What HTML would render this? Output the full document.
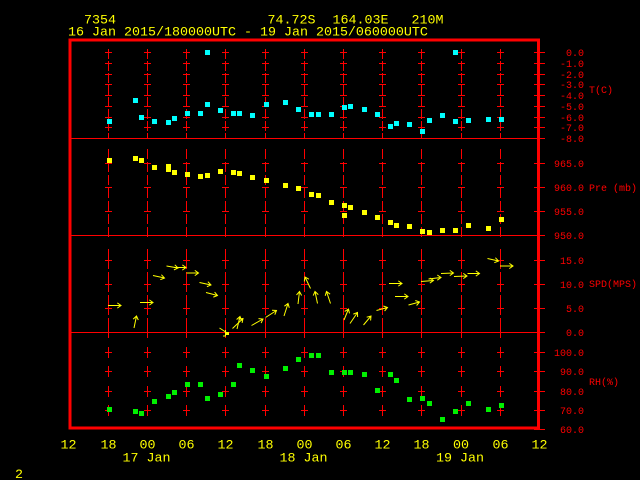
<!DOCTYPE html>
<html>
<head>
<meta charset="utf-8">
<style>
html,body{margin:0;padding:0;background:#000;}
svg{display:block;}
.y{fill:#ffff00;font-family:"Liberation Mono",monospace;font-size:13.33px;}
.r{fill:#ff0000;font-family:"Liberation Mono",monospace;font-size:10px;}
</style>
</head>
<body>
<svg width="640" height="480" viewBox="0 0 640 480" xmlns="http://www.w3.org/2000/svg" xmlns:xlink="http://www.w3.org/1999/xlink">
<rect x="0" y="0" width="640" height="480" fill="#000"/>
<defs>
<g id="c" stroke="#ff0000" stroke-width="1" fill="none">
  <line x1="0.5" y1="49" x2="0.5" y2="138" stroke-dasharray="10 2"/>
  <path d="M-3 52.5h7M-3 63.5h7M-3 74.5h7M-3 84.5h7M-3 95.5h7M-3 106.5h7M-3 117.5h7M-3 127.5h7"/>
  <line x1="0.5" y1="149" x2="0.5" y2="240" stroke-dasharray="10 3"/>
  <path d="M-3 163.5h7M-3 187.5h7M-3 211.5h7"/>
  <line x1="0.5" y1="249" x2="0.5" y2="340" stroke-dasharray="20 3"/>
  <path d="M-3 260.5h7M-3 284.5h7M-3 308.5h7"/>
  <path d="M0.5 347v11M0.5 366v11M0.5 386v11M0.5 405v11"/>
  <path d="M-3 352.5h7M-3 371.5h7M-3 391.5h7M-3 410.5h7"/>
</g>
</defs>

<!-- header -->
<text class="y" x="84" y="23.5">7354</text>
<text class="y" x="267.5" y="23.5">74.72S</text>
<text class="y" x="332.5" y="23.5">164.03E</text>
<text class="y" x="411.5" y="23.5">210M</text>
<text class="y" x="68" y="35.5">16 Jan 2015/180000UTC - 19 Jan 2015/060000UTC</text>

<!-- grid columns -->
<use xlink:href="#c" href="#c" x="108"/>
<use xlink:href="#c" href="#c" x="147"/>
<use xlink:href="#c" href="#c" x="186"/>
<use xlink:href="#c" href="#c" x="225"/>
<use xlink:href="#c" href="#c" x="265"/>
<use xlink:href="#c" href="#c" x="304"/>
<use xlink:href="#c" href="#c" x="343"/>
<use xlink:href="#c" href="#c" x="382"/>
<use xlink:href="#c" href="#c" x="421"/>
<use xlink:href="#c" href="#c" x="461"/>
<use xlink:href="#c" href="#c" x="500"/>

<!-- separators and right ticks -->
<path stroke="#ff0000" stroke-width="1" fill="none" d="M70 138.5H540M70 235.5H540M70 332.5H540
M534 52.5H545M534 63.5H545M534 74.5H545M534 84.5H545M534 95.5H545M534 106.5H545M534 117.5H545M534 127.5H545M534 138.5H545
M534 163.5H545M534 187.5H545M534 211.5H545M534 235.5H545
M534 260.5H545M534 284.5H545M534 308.5H545M534 332.5H545
M534 352.5H545M534 371.5H545M534 391.5H545M534 410.5H545M534 429.5H545"/>

<!-- frame -->
<rect x="70" y="40" width="468.5" height="388" fill="none" stroke="#ff0000" stroke-width="3"/>

<!-- right labels -->
<g class="r" text-anchor="end">
<text x="584" y="56">0.0</text>
<text x="584" y="67">-1.0</text>
<text x="584" y="78">-2.0</text>
<text x="584" y="88">-3.0</text>
<text x="584" y="99">-4.0</text>
<text x="584" y="110">-5.0</text>
<text x="584" y="121">-6.0</text>
<text x="584" y="131">-7.0</text>
<text x="584" y="142">-8.0</text>
<text x="584" y="167">965.0</text>
<text x="584" y="191">960.0</text>
<text x="584" y="215">955.0</text>
<text x="584" y="239">950.0</text>
<text x="584" y="264">15.0</text>
<text x="584" y="288">10.0</text>
<text x="584" y="312">5.0</text>
<text x="584" y="336">0.0</text>
<text x="584" y="356">100.0</text>
<text x="584" y="375">90.0</text>
<text x="584" y="395">80.0</text>
<text x="584" y="414">70.0</text>
<text x="584" y="433">60.0</text>
</g>
<g class="r">
<text x="589" y="93">T(C)</text>
<text x="589" y="191">Pre (mb)</text>
<text x="589" y="287">SPD(MPS)</text>
<text x="589" y="385">RH(%)</text>
</g>

<!-- temperature -->
<g fill="#00ffff" shape-rendering="crispEdges">
<rect x="107" y="119" width="5" height="5"/><rect x="133" y="98" width="5" height="5"/><rect x="139" y="115" width="5" height="5"/><rect x="152" y="119" width="5" height="5"/><rect x="166" y="120" width="5" height="5"/><rect x="172" y="116" width="5" height="5"/><rect x="185" y="111" width="5" height="5"/><rect x="198" y="111" width="5" height="5"/><rect x="205" y="50" width="5" height="5"/><rect x="205" y="102" width="5" height="5"/><rect x="218" y="108" width="5" height="5"/><rect x="231" y="111" width="5" height="5"/><rect x="237" y="111" width="5" height="5"/><rect x="250" y="113" width="5" height="5"/><rect x="264" y="102" width="5" height="5"/><rect x="283" y="100" width="5" height="5"/><rect x="296" y="107" width="5" height="5"/><rect x="309" y="112" width="5" height="5"/><rect x="316" y="112" width="5" height="5"/><rect x="329" y="112" width="5" height="5"/><rect x="342" y="105" width="5" height="5"/><rect x="348" y="104" width="5" height="5"/><rect x="362" y="107" width="5" height="5"/><rect x="375" y="112" width="5" height="5"/><rect x="388" y="124" width="5" height="5"/><rect x="394" y="121" width="5" height="5"/><rect x="407" y="122" width="5" height="5"/><rect x="420" y="129" width="5" height="5"/><rect x="427" y="118" width="5" height="5"/><rect x="440" y="113" width="5" height="5"/><rect x="453" y="50" width="5" height="5"/><rect x="453" y="119" width="5" height="5"/><rect x="466" y="118" width="5" height="5"/><rect x="486" y="117" width="5" height="5"/><rect x="499" y="117" width="5" height="5"/>
</g>

<!-- pressure -->
<g fill="#ffff00" shape-rendering="crispEdges">
<rect x="107" y="158" width="5" height="5"/><rect x="133" y="156" width="5" height="5"/><rect x="139" y="158" width="5" height="5"/><rect x="152" y="165" width="5" height="5"/><rect x="166" y="164" width="5" height="5"/><rect x="166" y="167" width="5" height="5"/><rect x="172" y="170" width="5" height="5"/><rect x="185" y="172" width="5" height="5"/><rect x="198" y="174" width="5" height="5"/><rect x="205" y="173" width="5" height="5"/><rect x="218" y="169" width="5" height="5"/><rect x="231" y="170" width="5" height="5"/><rect x="237" y="171" width="5" height="5"/><rect x="250" y="175" width="5" height="5"/><rect x="264" y="178" width="5" height="5"/><rect x="283" y="183" width="5" height="5"/><rect x="296" y="186" width="5" height="5"/><rect x="309" y="192" width="5" height="5"/><rect x="316" y="193" width="5" height="5"/><rect x="329" y="200" width="5" height="5"/><rect x="342" y="203" width="5" height="5"/><rect x="342" y="213" width="5" height="5"/><rect x="348" y="205" width="5" height="5"/><rect x="362" y="210" width="5" height="5"/><rect x="375" y="215" width="5" height="5"/><rect x="388" y="220" width="5" height="5"/><rect x="394" y="223" width="5" height="5"/><rect x="407" y="224" width="5" height="5"/><rect x="420" y="229" width="5" height="5"/><rect x="427" y="230" width="5" height="5"/><rect x="440" y="228" width="5" height="5"/><rect x="453" y="228" width="5" height="5"/><rect x="466" y="223" width="5" height="5"/><rect x="486" y="226" width="5" height="5"/><rect x="499" y="217" width="5" height="5"/>
<rect x="226" y="332" width="3" height="3"/>
</g>

<!-- wind arrows -->
<g stroke="#ffff00" stroke-width="1" fill="none">
<path d="M108 305.5L121 305.5M117.3 302.9L121 305.5L117.3 308.1"/>
<path d="M134 328L136.5 316M133.2 319.1L136.5 316L138.3 320.1"/>
<path d="M140 302.5L153 302.5M149.3 299.9L153 302.5L149.3 305.1"/>
<path d="M153 275.5L164.5 278M161.4 274.7L164.5 278L160.3 279.7"/>
<path d="M166.5 266L178 268M174.8 264.8L178 268L173.9 269.9"/>
<path d="M174 267.5L186 267.5M182.3 264.9L186 267.5L182.3 270.1"/>
<path d="M186.5 273L198.5 273M194.8 270.4L198.5 273L194.8 275.6"/>
<path d="M199.5 282.5L211 285M207.9 281.7L211 285L206.9 286.7"/>
<path d="M206 292.5L217.5 295.5M214.6 292.1L217.5 295.5L213.3 297.1"/>
<path d="M219.5 328L228 333.5M225.5 330V336M223 336H226"/>
<path d="M232.5 328.5L243 318.5M238.6 319.2L243 318.5L242.1 322.9"/>
<path d="M237 329L240 316.5M236.6 319.5L240 316.5L241.7 320.7"/>
<path d="M251.5 325.5L263 319M258.5 318.6L263 319L261.1 323.1"/>
<path d="M265.5 317.5L276.5 310.5M272 310.3L276.5 310.5L274.8 314.7"/>
<path d="M284 316L288 303.5M284.4 306.2L288 303.5L289.3 307.8"/>
<path d="M298 304L299.5 291.5M296.5 294.9L299.5 291.5L301.6 295.5"/>
<path d="M310.5 288.5L305 277M304.3 281.4L305 277L308.9 279.2"/>
<path d="M317.5 303.5L315 291.5M313.2 295.6L315 291.5L318.3 294.6"/>
<path d="M330.5 303.5L326.5 291.5M325.2 295.8L326.5 291.5L330.1 294.2"/>
<path d="M344 320L348.5 309M344.7 311.4L348.5 309L349.5 313.4"/>
<path d="M350 323.5L357.5 312.5M353.3 314.1L357.5 312.5L357.6 317"/>
<path d="M363.5 325L371 316M366.7 317.2L371 316L370.6 320.5"/>
<path d="M376.5 310.5L387.5 307.5M383.3 306L387.5 307.5L384.6 311"/>
<path d="M389 283.5L402 283.5M398.3 280.9L402 283.5L398.3 286.1"/>
<path d="M395 296.5L408 296.5M404.3 293.9L408 296.5L404.3 299.1"/>
<path d="M408.5 305L419.5 302M415.3 300.5L419.5 302L416.6 305.5"/>
<path d="M421 281.5L433.5 280.5M429.8 278L433.5 280.5L429.8 283.1"/>
<path d="M428.5 279L441 277.5M437.3 275L441 277.5L437.3 280.2"/>
<path d="M441 273.5L453.5 273M449.8 270.4L453.5 273L449.8 275.6"/>
<path d="M454 276.5L467 276M463.3 273.4L467 276L463.3 278.6"/>
<path d="M467.5 273.5L479.5 273.5M475.8 270.9L479.5 273.5L475.8 276.1"/>
<path d="M487.5 258.5L498.5 261M495.4 257.7L498.5 261L494.3 262.7"/>
<path d="M500 266L513 266M509.3 263.4L513 266L509.3 268.6"/>
</g>

<!-- RH -->
<g fill="#00f000" shape-rendering="crispEdges">
<rect x="107" y="407" width="5" height="5"/><rect x="133" y="409" width="5" height="5"/><rect x="139" y="411" width="5" height="5"/><rect x="152" y="399" width="5" height="5"/><rect x="166" y="394" width="5" height="5"/><rect x="172" y="390" width="5" height="5"/><rect x="185" y="382" width="5" height="5"/><rect x="198" y="382" width="5" height="5"/><rect x="205" y="396" width="5" height="5"/><rect x="218" y="392" width="5" height="5"/><rect x="231" y="382" width="5" height="5"/><rect x="237" y="363" width="5" height="5"/><rect x="250" y="368" width="5" height="5"/><rect x="264" y="374" width="5" height="5"/><rect x="283" y="366" width="5" height="5"/><rect x="296" y="357" width="5" height="5"/><rect x="309" y="353" width="5" height="5"/><rect x="316" y="353" width="5" height="5"/><rect x="329" y="370" width="5" height="5"/><rect x="342" y="370" width="5" height="5"/><rect x="348" y="370" width="5" height="5"/><rect x="362" y="372" width="5" height="5"/><rect x="375" y="388" width="5" height="5"/><rect x="388" y="372" width="5" height="5"/><rect x="394" y="378" width="5" height="5"/><rect x="407" y="397" width="5" height="5"/><rect x="420" y="396" width="5" height="5"/><rect x="427" y="401" width="5" height="5"/><rect x="440" y="417" width="5" height="5"/><rect x="453" y="409" width="5" height="5"/><rect x="466" y="401" width="5" height="5"/><rect x="486" y="407" width="5" height="5"/><rect x="499" y="403" width="5" height="5"/>
</g>

<!-- x axis labels -->
<g class="y" text-anchor="middle">
<text x="68.5" y="448.5">12</text>
<text x="108.5" y="448.5">18</text>
<text x="147.5" y="448.5">00</text>
<text x="186.5" y="448.5">06</text>
<text x="225.5" y="448.5">12</text>
<text x="265.5" y="448.5">18</text>
<text x="304.5" y="448.5">00</text>
<text x="343.5" y="448.5">06</text>
<text x="382.5" y="448.5">12</text>
<text x="421.5" y="448.5">18</text>
<text x="461" y="448.5">00</text>
<text x="500.5" y="448.5">06</text>
<text x="539.5" y="448.5">12</text>
<text x="146.5" y="461.5">17 Jan</text>
<text x="303.5" y="461.5">18 Jan</text>
<text x="460" y="461.5">19 Jan</text>
</g>
<text class="y" x="15" y="478">2</text>
</svg>
</body>
</html>
